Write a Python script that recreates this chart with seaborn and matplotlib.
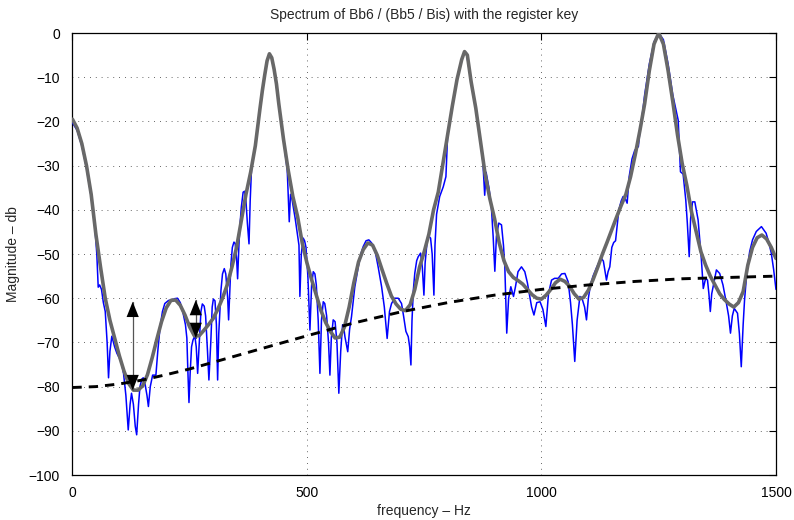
import numpy as np
import pandas as pd
import matplotlib
matplotlib.use("Agg")
import matplotlib.pyplot as plt
import seaborn as sns

# ---------------- data ----------------
blue_hz = [0, 10, 20, 30, 40, 48, 52, 55, 58, 62, 66, 70, 74, 77, 80, 84, 90, 95, 100, 105,
           109, 114, 119, 123, 126, 130, 134, 137, 141, 144, 148, 151, 155, 159, 162, 166, 171, 178, 182, 187,
           192, 197, 205, 212, 218, 224, 230, 236, 241, 244, 246, 248.5, 251, 254, 257, 261, 264, 267, 270, 274,
           277, 281, 284, 288, 291, 295, 298, 300.5, 304, 307, 309.6, 312, 316.7, 320, 323.8, 327, 331, 333, 336, 338,
           341, 344.4, 347, 350, 352.2, 355, 357, 360, 364, 367, 370, 373, 376.5, 379, 382, 390, 400, 410, 415, 420,
           425, 430, 440, 450, 458, 462.3, 465, 468, 475, 481, 483, 485, 488, 492, 495, 498, 502, 506.4, 510, 513.5,
           517, 520, 524, 527.7, 531, 534.8, 538, 542, 546, 549, 552, 556, 560, 564, 568, 572, 576, 579, 581, 587,
           591, 595, 602, 609.4, 615, 620, 626, 632, 638, 645, 652, 659.2, 665, 671, 676, 680.4, 687, 694.7, 701.7, 706,
           711, 716, 719, 721.7, 724, 727, 730, 734, 737.3, 742.3, 746, 749.4, 752, 756.5, 760, 763.6, 767, 770.7, 773, 776.4,
           783, 790.6, 796.3, 797.7, 800, 810, 820, 830, 836, 840, 850, 860, 870, 875, 879, 882, 888, 893, 897, 900.6,
           904, 909, 914.8, 919, 921.9, 926, 930, 934.7, 940.4, 944.6, 950, 957.4, 964.5, 970, 975, 979, 984, 990, 997, 1003,
           1009.4, 1015, 1021.5, 1028, 1035.7, 1043, 1050, 1057, 1062, 1066, 1071, 1076, 1082, 1087.5, 1092, 1096, 1100, 1104.5, 1110, 1117,
           1122, 1128, 1132, 1135, 1138.6, 1142, 1145.7, 1150, 1154, 1158, 1161, 1165, 1170, 1174, 1178, 1182.7, 1187, 1193, 1199, 1206.6,
           1210, 1213.7, 1220, 1230, 1240, 1250, 1260, 1270, 1280, 1291.5, 1296.4, 1302, 1307.7, 1311, 1315, 1318, 1322, 1327, 1334, 1341,
           1345, 1350, 1354, 1357, 1360, 1363, 1366, 1373, 1380, 1387, 1394.4, 1399, 1403, 1407, 1411, 1418, 1422, 1426, 1430, 1433,
           1438, 1444, 1450, 1458, 1469, 1479, 1485, 1490, 1495, 1500]
blue_db = [-20.3, -22, -25.5, -30.5, -37, -44, -50, -57.5, -57, -58, -61, -63, -70, -78, -72, -68.6, -71, -72.5, -73.5, -74.7,
           -77, -82, -89.8, -84, -81.5, -84, -89, -90.9, -84, -80, -78.3, -78, -79.5, -82, -84.5, -80, -77.4, -77.4, -72, -66.4,
           -63, -61.2, -60.5, -60.4, -60.1, -60, -61, -63.4, -66, -69, -76, -83.6, -77, -71, -69.5, -68.5, -71, -77, -71, -63,
           -61.3, -61.8, -64, -72, -78.5, -70, -62, -60.2, -60.6, -66, -78.5, -68, -58.2, -54.5, -53.3, -54.5, -60, -64.9, -57, -52.2,
           -48.5, -47.3, -47.6, -51, -55.6, -48, -43.9, -39.5, -36, -35.8, -38, -43, -47.7, -38, -30.3, -25.5, -17, -9.5, -6.3, -4.7,
           -5.6, -8.2, -16, -24, -31, -42.7, -36.5, -37.5, -42, -46.5, -48, -59.6, -50, -46.4, -47, -48.5, -55, -67.2, -57, -54,
           -54.5, -57, -65, -77, -65, -60.8, -61.2, -64, -70, -77.4, -69, -64.9, -65.3, -70, -81.5, -72, -66, -67, -68.7, -72.1,
           -67, -64.2, -57.5, -52.9, -50, -48.3, -47, -46.8, -47.5, -49.1, -53, -57.4, -62, -69.1, -63, -61.2, -60, -60, -61.2, -64,
           -67.5, -68.7, -71, -75.1, -65, -58, -54.3, -51.5, -50.6, -49.8, -53, -59.3, -52, -46.8, -46, -46.4, -50, -59.3, -48, -41,
           -37, -34.8, -32.5, -28.7, -23, -16.5, -10.5, -6, -4.2, -4.5, -11, -17, -24.5, -29, -36.7, -31.5, -35, -39, -46, -53.9,
           -46, -43, -43.4, -48, -52.9, -67.9, -60, -57.4, -59.6, -57.4, -54, -52.9, -54, -56.5, -59.6, -62, -63.8, -61, -60.8, -62.5,
           -66.4, -59, -55.9, -55.5, -55.5, -54.5, -54.4, -56.3, -61, -66, -74.3, -65, -59.6, -60.4, -62, -64.9, -60, -57, -55, -53.2,
           -52, -51, -51.6, -53.5, -55.9, -54, -52.9, -48.5, -47.4, -47, -44, -40, -38, -37, -37.3, -38.5, -32.5, -28.5, -26.5, -25.7,
           -22, -19.7, -14, -7, -2, 0, -1.5, -7, -14, -19.7, -31.4, -31.9, -37.8, -43, -50.6, -42, -38.2, -38.2, -42.3, -51.3,
           -57.8, -55.5, -55.9, -59, -63, -59, -57.4, -53.6, -54.4, -57, -61.2, -64, -67.9, -64, -62.3, -63.4, -68, -75.5, -66, -60.4,
           -54, -49.4, -46.8, -44.9, -43.8, -45.3, -47.5, -49.8, -53.5, -58]

gray_hz = [0, 10, 20, 30, 40, 50, 60, 70, 80, 90, 100, 110, 120, 130, 140, 150, 160, 170, 180, 190,
           200, 210, 220, 230, 240, 250, 260, 270, 280, 290, 300, 310, 320, 330, 340, 350, 360, 370, 380, 390,
           400, 405, 410, 415, 420, 425, 430, 435, 440, 450, 460, 470, 480, 490, 500, 510, 520, 530, 540, 550,
           560, 570, 580, 590, 600, 610, 620, 630, 640, 650, 660, 670, 680, 690, 700, 710, 720, 730, 740, 750,
           760, 770, 780, 790, 800, 810, 820, 830, 836, 842, 850, 860, 870, 880, 890, 900, 910, 920, 930, 940,
           950, 960, 970, 980, 990, 1000, 1010, 1020, 1030, 1040, 1050, 1060, 1070, 1080, 1090, 1100, 1110, 1120, 1130, 1140,
           1150, 1160, 1170, 1180, 1190, 1200, 1210, 1220, 1230, 1240, 1250, 1260, 1270, 1280, 1290, 1300, 1310, 1320, 1330, 1340,
           1350, 1360, 1370, 1380, 1390, 1400, 1410, 1420, 1430, 1440, 1450, 1460, 1470, 1480, 1490, 1500]
gray_db = [-19.5, -21.5, -25, -30, -36.5, -45.5, -53, -60, -65, -69, -73, -76.5, -79.3, -80.8, -80.8, -79.8, -77.3, -73.5, -69.3, -65.3,
           -62.2, -60.5, -60.4, -61.6, -63.8, -66.5, -68.5, -68.5, -67.3, -66, -64.6, -62.5, -60, -57, -53, -48.5, -42.5, -36.5, -31.5, -25.5,
           -17, -13, -9.5, -6.3, -4.7, -5.6, -8.2, -11.5, -16, -24, -31, -37, -41.5, -47.5, -52, -55.8, -59.3, -62.8, -65.5, -67.5,
           -69, -68.8, -66.5, -62, -56.5, -51.8, -49, -47.5, -48, -50.3, -53.5, -56.6, -59.5, -61.3, -62.5, -62.8, -61.5, -58, -53, -49.5,
           -45.5, -40, -36, -29.5, -23, -16.5, -10.5, -6, -4.2, -5, -11, -17, -24.5, -32, -37.5, -42, -47.5, -51.5, -54, -55.3,
           -56, -56.8, -58, -59.2, -60, -60.2, -59.3, -58, -56.5, -55.7, -56.2, -57.3, -59, -60.2, -59.8, -58.2, -55.8, -53, -50, -47.3,
           -44.5, -41.7, -39, -36.5, -32.5, -27.5, -22, -16, -8.5, -2.5, 0, -2.5, -8.5, -15.5, -23, -29.5, -34.5, -40.5, -45, -49.5,
           -52.5, -55, -57, -59, -60.3, -61.3, -62, -61, -58.5, -52.5, -48.5, -46.3, -45.7, -46.6, -48.5, -51]

floor_hz = [0, 50, 100, 150, 200, 250, 300, 400, 500, 600, 700, 800, 900, 1000, 1100, 1200, 1300, 1400, 1500]
floor_db = [-80.2, -80, -79.4, -78.5, -77.3, -76, -74.5, -71.5, -68.5, -65.6, -63.1, -61, -59.3, -58, -57, -56.2, -55.6, -55.3, -55]

# double arrows: x position, lower tip, upper tip
arrow_hz = [128.5, 263]
arrow_lo = [-80.8, -69.0]
arrow_hi = [-60.8, -60.4]

xticks = [0, 500, 1000, 1500]
yticks = [0, -10, -20, -30, -40, -50, -60, -70, -80, -90, -100]

title = "Spectrum of Bb6 / (Bb5 / Bis) with the register key"
xlabel = "frequency \u2013 Hz"
ylabel = "Magnitude \u2013 db"

# ---------------- plotting ----------------
sns.set_style("white")
plt.rcParams['font.family'] = ['Liberation Sans', 'DejaVu Sans']

fig = plt.figure(figsize=(7.94, 5.20), dpi=100)
ax = fig.add_axes([0.0912, 0.0865, 0.8861, 0.85])

blue_df = pd.DataFrame({"hz": blue_hz, "db": blue_db})
gray_df = pd.DataFrame({"hz": gray_hz, "db": gray_db})
floor_df = pd.DataFrame({"hz": floor_hz, "db": floor_db})

sns.lineplot(data=blue_df, x="hz", y="db", ax=ax, color="#0000ff", lw=1.1,
             sort=False, estimator=None, zorder=3)
sns.lineplot(data=gray_df, x="hz", y="db", ax=ax, color="#686868", lw=2.6,
             sort=False, estimator=None, zorder=4)
sns.lineplot(data=floor_df, x="hz", y="db", ax=ax, color="black", lw=2.1,
             sort=False, estimator=None, zorder=5, linestyle=(0, (3.2, 2.4)))

for x, lo, hi in zip(arrow_hz, arrow_lo, arrow_hi):
    ax.plot([x, x], [lo, hi], color="#555555", lw=0.9, zorder=6)
    for tip, base in ((hi, lo), (lo, hi)):
        ax.annotate("", xy=(x, tip), xytext=(x, (tip + base) / 2),
                    arrowprops=dict(arrowstyle="-|>,head_length=1.0,head_width=0.4",
                                    mutation_scale=11, color="black", lw=0.0,
                                    shrinkA=0, shrinkB=0), zorder=7)

ax.set_xlim(0, 1500)
ax.set_ylim(-100, 0)
ax.set_xticks(xticks)
ax.set_yticks(yticks)
ax.set_xticklabels([str(t) for t in xticks])
ax.set_yticklabels([("\u2212" + str(-t)) if t < 0 else str(t) for t in yticks])
ax.grid(True, linestyle=(0, (1, 6)), color="black", lw=0.6, alpha=0.8)
ax.tick_params(direction="in", length=5, width=0.8, top=True, right=True,
               labelsize=10, colors="black")
ax.tick_params(axis="x", pad=8)
ax.tick_params(axis="y", pad=9)
for s in ax.spines.values():
    s.set_visible(True)
    s.set_color("black")
    s.set_linewidth(0.9)

ax.set_title(title, fontsize=10, pad=10)
ax.set_xlabel(xlabel, fontsize=10, labelpad=3)
ax.set_ylabel(ylabel, fontsize=10, labelpad=6)

fig.savefig("out.png", dpi=100, facecolor="white")
